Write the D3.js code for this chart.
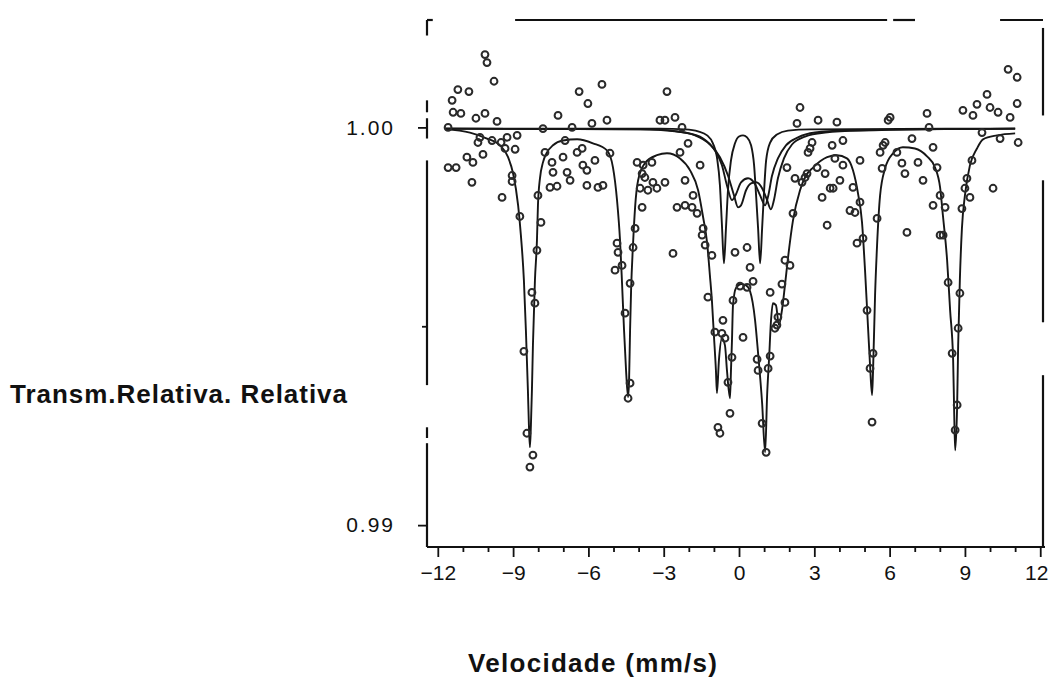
<!DOCTYPE html>
<html lang="pt">
<head>
<meta charset="UTF-8">
<title>Espectro Mössbauer</title>
<style>
  body { margin: 0; background: #fff; }
  svg text { font-family: "Liberation Sans", Arial, Helvetica, sans-serif; fill: #111; }
</style>
</head>
<body>
<svg width="1050" height="681"></svg>

<script src="https://d3js.org/d3.v7.min.js"></script>
<script>

    // pontos experimentais [velocidade mm/s, transmissão relativa]
    let pontosEsquerda = [
        [-10.12,1.00183],[-10.04,1.00163],[-9.76,1.00116],[-11.20,1.00095],[-10.76,1.00090],[-11.43,1.00068],
        [-11.39,1.00038],[-11.08,1.00035],[-10.48,1.00023],[-10.12,1.00035],[-9.64,1.00015],[-11.59,1.00000],
        [-10.32,0.99975],[-10.40,0.99962],[-9.84,0.99967],[-9.48,0.99962],[-9.24,0.99975],[-8.84,0.99980],
        [-9.32,0.99947],[-8.92,0.99945],[-10.84,0.99925],[-10.60,0.99912],[-10.20,0.99932],[-11.59,0.99899],
        [-11.27,0.99899],[-10.64,0.99862],[-9.44,0.99824],[-9.04,0.99879],[-9.04,0.99864],[-8.73,0.99776],
        [-7.81,0.99997],[-7.21,1.00030],[-6.65,1.00000],[-6.37,1.00090],[-5.46,1.00108],[-6.02,1.00060],
        [-5.86,1.00010],[-5.26,1.00018],[-7.73,0.99937],[-7.45,0.99912],[-7.01,0.99925],[-6.45,0.99937],
        [-6.93,0.99967],[-6.25,0.99947],[-7.41,0.99887],[-6.85,0.99887],[-6.73,0.99867],[-6.22,0.99905],
        [-6.06,0.99892],[-5.74,0.99917],[-5.14,0.99935],[-7.53,0.99849],[-7.25,0.99852],[-6.06,0.99854],
        [-5.62,0.99849],[-5.42,0.99854],[-8.01,0.99829],[-7.89,0.99761],[-8.05,0.99691],[-8.25,0.99585],
        [-8.13,0.99558],[-8.57,0.99437],[-8.45,0.99231],[-8.21,0.99176],[-8.33,0.99146]
    ]

    let pontosCentro = [
        [-3.15,1.00018],[-2.95,1.00018],[-2.55,1.00025],[-2.87,1.00090],[-2.27,1.00000],[-4.86,0.99709],
        [-4.82,0.99686],[-4.66,0.99653],[-4.94,0.99641],[-4.22,0.99698],[-4.14,0.99746],[-4.34,0.99608],
        [-4.54,0.99533],[-4.34,0.99357],[-4.42,0.99319],[-2.03,0.99960],[-2.35,0.99937],[-3.47,0.99912],
        [-3.82,0.99905],[-4.06,0.99912],[-3.86,0.99884],[-3.75,0.99874],[-3.43,0.99862],[-2.95,0.99862],
        [-3.94,0.99847],[-3.63,0.99842],[-3.27,0.99847],[-3.86,0.99799],[-2.47,0.99799],[-2.15,0.99804],
        [-1.87,0.99799],[-1.67,0.99784],[-2.15,0.99867],[-1.83,0.99829],[-1.55,0.99905],[-1.47,0.99729],
        [-1.35,0.99704],[-2.63,0.99683],[-1.08,0.99678],[-1.43,0.99746],
        [-1.24,0.99573],[-0.64,0.99515],[-0.96,0.99485],[-0.68,0.99482],[-0.56,0.99470],[-0.28,0.99422],
        [-0.44,0.99359],[-0.36,0.99281],[-0.84,0.99246],[-0.76,0.99231],[-0.24,0.99565],[0.04,0.99601],
        [0.32,0.99598],[0.56,0.99613],[1.24,0.99585],[1.71,0.99606],[1.83,0.99560],[0.16,0.99472],
        [1.51,0.99503],[1.55,0.99523],[1.43,0.99495],[0.72,0.99417],[0.76,0.99389],[1.16,0.99394],
        [1.24,0.99425],[0.92,0.99256],[1.08,0.99183],[-0.16,0.99686],[0.32,0.99698],[0.44,0.99648],
        [1.91,0.99899],[2.23,0.99872],[2.15,0.99784],[2.75,0.99937],[2.63,0.99874],[1.83,0.99666],
        [2.03,0.99653]
    ]

    let pontosDireita = [
        [2.43,1.00050],[2.31,1.00010],[3.15,1.00018],[3.90,1.00013],[5.94,1.00018],[6.02,1.00025],
        [7.49,1.00035],[7.57,1.00000],[8.92,1.00043],[9.32,1.00030],[9.48,1.00058],[9.88,1.00083],
        [10.00,1.00050],[10.32,1.00038],[10.80,1.00025],[11.08,1.00060],[10.72,1.00146],[11.08,1.00126],
        [9.68,0.99987],[10.40,0.99972],[11.12,0.99962],
        [4.14,0.99967],[3.82,0.99922],[4.14,0.99905],[4.82,0.99917],[3.71,0.99955],[5.62,0.99937],
        [5.74,0.99955],[5.82,0.99962],[6.29,0.99937],[6.89,0.99972],[7.73,0.99950],[5.70,0.99897],
        [6.49,0.99910],[6.61,0.99884],[7.13,0.99912],[7.33,0.99867],[7.89,0.99899],[4.02,0.99867],
        [3.75,0.99847],[4.54,0.99849],[9.28,0.99917],[9.08,0.99872],[9.00,0.99847],[9.20,0.99824],
        [10.12,0.99847],[4.42,0.99791],[4.62,0.99786],[4.82,0.99812],[5.50,0.99771],[7.73,0.99804],
        [8.21,0.99799],[8.01,0.99829],[8.88,0.99796],[6.69,0.99736],[4.94,0.99721],[4.70,0.99709],
        [8.01,0.99729],[8.13,0.99729],[8.33,0.99610],[8.80,0.99583],[5.10,0.99540],[8.73,0.99495],
        [8.49,0.99432],[5.34,0.99432],[5.22,0.99394],[8.69,0.99302],[8.61,0.99239],[5.30,0.99259],
        [2.91,0.99962],[2.83,0.99947],[3.11,0.99899],[3.43,0.99884],[2.51,0.99862],[2.71,0.99884],
        [3.63,0.99847],[3.31,0.99824],[3.51,0.99754]
    ]

    // curva de ajuste total (lida ponto a ponto do gráfico)
    let ajusteTotal = [
        [-11.71,0.99995],[-10.72,0.99987],[-10.04,0.99972],[-9.52,0.99955],[-9.20,0.99925],[-9.00,0.99884],
        [-8.80,0.99804],[-8.69,0.99729],[-8.57,0.99616],[-8.49,0.99490],[-8.41,0.99339],[-8.37,0.99251],
        [-8.33,0.99196],[-8.29,0.99251],[-8.25,0.99339],[-8.21,0.99452],[-8.13,0.99616],[-8.05,0.99716],
        [-8.01,0.99804],[-7.93,0.99872],[-7.81,0.99912],[-7.65,0.99937],[-7.41,0.99955],[-7.01,0.99967],
        [-6.45,0.99970],[-5.82,0.99960],[-5.26,0.99942],[-5.02,0.99899],[-4.86,0.99817],[-4.74,0.99716],
        [-4.66,0.99608],[-4.58,0.99490],[-4.50,0.99389],[-4.42,0.99322],[-4.38,0.99364],[-4.34,0.99490],
        [-4.30,0.99590],[-4.22,0.99709],[-4.14,0.99799],[-4.02,0.99867],[-3.75,0.99910],[-3.27,0.99930],
        [-2.87,0.99935],[-2.35,0.99922],[-1.95,0.99892],[-1.63,0.99842],[-1.43,0.99774],[-1.27,0.99709],
        [-1.16,0.99628],[-1.08,0.99565],[-1.00,0.99477],[-0.92,0.99389],[-0.88,0.99332],[-0.80,0.99415],
        [-0.68,0.99470],[-0.56,0.99452],[-0.48,0.99389],[-0.36,0.99319],[-0.32,0.99389],[-0.28,0.99465],
        [-0.24,0.99553],[-0.12,0.99596],[0.08,0.99606],[0.28,0.99603],[0.44,0.99588],[0.64,0.99515],
        [0.76,0.99432],[0.92,0.99307],[1.04,0.99183],[1.12,0.99327],[1.20,0.99422],[1.27,0.99510],
        [1.35,0.99558],[1.47,0.99553],[1.59,0.99503],[1.71,0.99540],[1.83,0.99603],[1.95,0.99671],
        [2.15,0.99766],[2.43,0.99842],[2.67,0.99879],[2.95,0.99899],[3.51,0.99925],[3.90,0.99930],
        [4.30,0.99922],[4.54,0.99892],[4.74,0.99834],[4.90,0.99761],[5.02,0.99641],[5.14,0.99497],
        [5.22,0.99402],[5.30,0.99327],[5.34,0.99389],[5.42,0.99578],[5.50,0.99704],[5.62,0.99829],
        [5.82,0.99897],[6.14,0.99935],[6.53,0.99950],[7.01,0.99947],[7.49,0.99927],[7.81,0.99899],
        [8.01,0.99849],[8.13,0.99774],[8.29,0.99666],[8.41,0.99540],[8.53,0.99415],[8.57,0.99289],
        [8.61,0.99188],[8.69,0.99302],[8.73,0.99452],[8.80,0.99621],[8.88,0.99746],[9.00,0.99829],
        [9.20,0.99905],[9.48,0.99947],[9.72,0.99970],[10.28,0.99980],[11.00,0.99985]
    ]

    // componentes (dubletos) do ajuste
    let dubletoA = [
        [-11.71,0.99997],[-3.15,0.99997],[-2.15,0.99995],[-1.63,0.99990],[-1.27,0.99980],[-1.04,0.99960],
        [-0.88,0.99925],[-0.76,0.99854],[-0.68,0.99754],[-0.60,0.99658],[-0.52,0.99746],[-0.44,0.99842],
        [-0.32,0.99917],[-0.16,0.99960],[0.00,0.99977],[0.16,0.99980],[0.32,0.99975],[0.48,0.99955],
        [0.60,0.99905],[0.68,0.99829],[0.76,0.99746],[0.84,0.99658],[0.92,0.99746],[1.00,0.99842],
        [1.08,0.99917],[1.24,0.99962],[1.51,0.99982],[1.95,0.99992],[2.83,0.99995],[11.00,0.99997]
    ]

    let dubletoB = [
        [-11.71,0.99997],[-3.94,0.99995],[-2.55,0.99990],[-1.75,0.99980],[-1.16,0.99957],[-0.76,0.99925],
        [-0.44,0.99879],[-0.20,0.99829],[-0.04,0.99799],[0.08,0.99804],[0.28,0.99842],[0.48,0.99859],
        [0.68,0.99862],[0.92,0.99847],[1.12,0.99817],[1.27,0.99794],[1.39,0.99817],[1.55,0.99872],
        [1.79,0.99922],[2.11,0.99957],[2.63,0.99977],[3.43,0.99987],[4.82,0.99992],[11.00,0.99997]
    ]

    let dubletoC = [
        [-11.71,0.99997],[-3.55,0.99995],[-2.15,0.99987],[-1.43,0.99972],[-0.96,0.99942],[-0.68,0.99905],
        [-0.48,0.99854],[-0.28,0.99817],[-0.12,0.99832],[0.08,0.99862],[0.36,0.99872],[0.64,0.99857],
        [0.84,0.99829],[1.04,0.99804],[1.16,0.99827],[1.31,0.99877],[1.55,0.99922],[1.87,0.99955],
        [2.35,0.99975],[3.03,0.99987],[4.22,0.99992],[11.00,0.99997]
    ]

    let ticksX = [-12, -9, -6, -3, 0, 3, 6, 9, 12]
    let ticksXMenores = [-11, -10, -8, -7, -5, -4, -2, -1, 1, 2, 4, 5, 7, 8, 10, 11]
    let ticksY = [0.99, 1.00]
    let ticksYMenores = [0.995]

    // moldura (trechos visíveis do original escaneado)
    let molduraTopo = [[-12.43, -12.2], [-8.92, 5.90], [6.14, 7.01], [10.40, 12.11]]
    let molduraDireita = [[1.0025, 1.0003], [0.99867, 0.9951], [0.99377, 0.98945]]
    let molduraEsquerda = [[1.0027, 1.00231], [1.00068, 1.00038], [1.00023, 0.99972], [0.99917, 0.99352], [0.99246, 0.99219], [0.99206, 0.98945]]

    let svg = d3.select('svg')
    let xMin = -12.43, xMax = 12.11, yMin = 0.98945, yMax = 1.0027

    let x = d3.scaleLinear().domain([xMin, xMax]).range([427, 1043])
    let y = d3.scaleLinear().domain([yMin, yMax]).range([547, 20])

    let cor = '#161616'

    // moldura
    let g = svg.append('g').attr('stroke', '#111').attr('stroke-width', 2.2)
    g.selectAll('.topo').data(molduraTopo).enter().append('line')
        .attr('x1', d => x(d[0])).attr('x2', d => x(d[1]))
        .attr('y1', y(yMax)).attr('y2', y(yMax))
    g.selectAll('.dir').data(molduraDireita).enter().append('line')
        .attr('x1', x(xMax)).attr('x2', x(xMax))
        .attr('y1', d => y(d[0])).attr('y2', d => y(d[1]))
    g.selectAll('.esq').data(molduraEsquerda).enter().append('line')
        .attr('x1', x(xMin)).attr('x2', x(xMin))
        .attr('y1', d => y(d[0])).attr('y2', d => y(d[1]))
    g.append('line')
        .attr('x1', x(xMin)).attr('x2', x(xMax) + 2)
        .attr('y1', y(yMin)).attr('y2', y(yMin))

    // eixo x
    let gx = svg.append('g').attr('transform', 'translate(0,' + y(yMin) + ')')
    gx.call(d3.axisBottom(x).tickValues(ticksX).tickSize(10).tickSizeOuter(0))
    gx.append('g').call(d3.axisBottom(x).tickValues(ticksXMenores).tickSize(5).tickFormat(''))
    gx.selectAll('.domain').remove()
    gx.selectAll('line').attr('stroke', '#111').attr('stroke-width', 1.8)
    gx.selectAll('text').attr('y', 18).style('font-size', '21px')
        .style('font-family', '"Liberation Sans", Arial, sans-serif').attr('fill', '#111')
        .attr('dx', d => d === 12 ? -4 : 0)

    // eixo y
    let gy = svg.append('g').attr('transform', 'translate(' + x(xMin) + ',0)')
    gy.call(d3.axisLeft(y).tickValues(ticksY).tickSize(9).tickSizeOuter(0).tickFormat(d3.format('.2f')))
    gy.append('g').call(d3.axisLeft(y).tickValues(ticksYMenores).tickSize(5).tickFormat(''))
    gy.selectAll('.domain').remove()
    gy.selectAll('line').attr('stroke', '#111').attr('stroke-width', 1.8)
    gy.selectAll('text').attr('x', -32).style('font-size', '21px').style('letter-spacing', '2px')
        .style('font-family', '"Liberation Sans", Arial, sans-serif').attr('fill', '#111')

    // curvas
    let linha = d3.line()
        .x(d => x(d[0]))
        .y(d => y(d[1]))
        .curve(d3.curveMonotoneX)

    let curvas = svg.append('g')
    ;[dubletoA, dubletoB, dubletoC, ajusteTotal].forEach(function (c) {
        curvas.append('path')
            .attr('d', linha(c))
            .attr('fill', 'none')
            .attr('stroke', cor)
            .attr('stroke-width', 1.9)
    })

    // pontos
    let todos = pontosEsquerda.concat(pontosCentro, pontosDireita)
    svg.append('g').selectAll('circle')
        .data(todos)
        .enter()
        .append('circle')
        .attr('cx', d => x(d[0]))
        .attr('cy', d => y(d[1]))
        .attr('r', 3.4)
        .attr('fill', 'none')
        .attr('stroke', '#2a2a2a')
        .attr('stroke-width', 2)

    // títulos
    svg.append('text')
        .attr('x', 10).attr('y', 403)
        .attr('textLength', 337).attr('lengthAdjust', 'spacing')
        .style('font-size', '26px').style('font-weight', 'bold')
        .text('Transm.Relativa. Relativa')

    svg.append('text')
        .attr('x', 468).attr('y', 672)
        .attr('textLength', 249).attr('lengthAdjust', 'spacing')
        .style('font-size', '26px').style('font-weight', 'bold')
        .text('Velocidade (mm/s)')

</script>
</body>
</html>
